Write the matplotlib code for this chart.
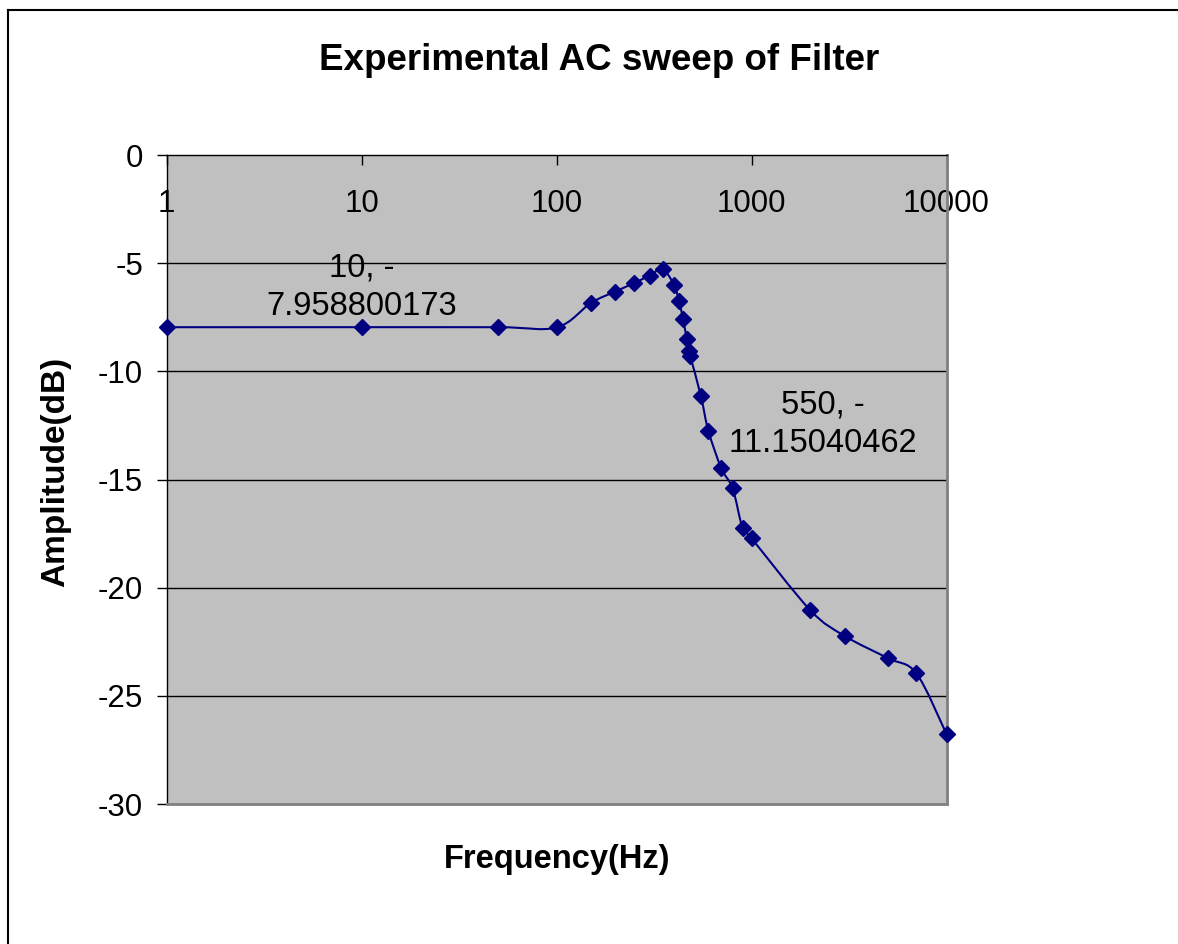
"""Recreate the experimental AC sweep chart of a filter (Excel style)."""

import matplotlib

matplotlib.use("Agg")
import matplotlib.pyplot as plt
import numpy as np
from matplotlib.lines import Line2D
from matplotlib.patches import PathPatch
from matplotlib.path import Path
from matplotlib.ticker import FixedLocator, NullLocator

plt.rcParams["font.family"] = ["Liberation Sans", "DejaVu Sans"]

freq_hz = [1, 10, 50, 100, 150, 200, 250, 300, 350, 400, 425, 445, 465, 475, 485,
           550, 600, 700, 800, 900, 1000, 2000, 3000, 5000, 7000, 10000]
amp_db = [-7.96, -7.9588, -7.96, -7.97, -6.84, -6.31, -5.92, -5.57, -5.28, -6.0,
          -6.77, -7.58, -8.5, -9.05, -9.31, -11.1504, -12.74, -14.49, -15.41,
          -17.26, -17.72, -21.04, -22.23, -23.26, -23.96, -26.77]

x_ticks = [1, 10, 100, 1000, 10000]
x_tick_labels = ["1", "10", "100", "1000", "10000"]
y_ticks = [0, -5, -10, -15, -20, -25, -30]

labelled = [(10, -7.958800173), (550, -11.15040462)]
label_texts = ["10, -\n7.958800173", "550, -\n11.15040462"]

LINE = "#000080"


def smooth_path(xs, ys, sx, sy):
    """Excel-like smoothed line: Bezier segments (Catmull-Rom control points)
    computed in screen-proportional space, log x."""
    lx = np.log10(xs) * sx
    ly = np.asarray(ys) * sy
    pts = np.column_stack([lx, ly])
    n = len(pts)
    verts = [pts[0]]
    codes = [Path.MOVETO]
    for i in range(n - 1):
        p0 = pts[i - 1] if i > 0 else pts[i]
        p1 = pts[i]
        p2 = pts[i + 1]
        p3 = pts[i + 2] if i + 2 < n else pts[i + 1]
        c1 = p1 + (p2 - p0) / 6.0
        c2 = p2 - (p3 - p1) / 6.0
        verts += [c1, c2, p2]
        codes += [Path.CURVE4] * 3
    verts = np.array(verts)
    verts[:, 0] = 10 ** (verts[:, 0] / sx)
    verts[:, 1] = verts[:, 1] / sy
    return Path(verts, codes)


fig = plt.figure(figsize=(11.78, 9.44), dpi=100)
ax = fig.add_axes([0.1415, 0.1483, 0.662, 0.6875])
ax.set_facecolor("#C0C0C0")

ax.set_xscale("log")
ax.set_xlim(1, 10000)
ax.set_ylim(-30, 0)

# smoothed connecting line, then markers
path = smooth_path(freq_hz, amp_db, 195.0, 21.67)
ax.add_patch(PathPatch(path, facecolor="none", edgecolor=LINE, lw=1.5, zorder=3,
                       clip_on=False))
ax.plot(freq_hz, amp_db, linestyle="none", marker="D", ms=8.5, color=LINE,
        markeredgecolor=LINE, zorder=4, clip_on=False)

# horizontal gridlines
for yv in y_ticks[1:-1]:
    ax.axhline(yv, color="black", lw=1.0, zorder=1)

# axes: x axis crosses at 0 (top), labels sit inside the plot area
ax.xaxis.set_major_locator(FixedLocator(x_ticks))
ax.xaxis.set_minor_locator(NullLocator())
ax.set_xticklabels(x_tick_labels)
ax.tick_params(axis="x", which="major", bottom=False, top=True, labelbottom=False,
               labeltop=True, direction="in", length=7, width=1, pad=-46,
               labelsize=22.5, colors="black")
ax.set_yticks(y_ticks)
ax.set_yticklabels([str(v) for v in y_ticks])
ax.tick_params(axis="y", direction="out", length=7, width=1, pad=10, labelsize=22.5)

ax.spines["top"].set_color("black")
ax.spines["left"].set_color("black")
ax.spines["top"].set_linewidth(1.0)
ax.spines["left"].set_linewidth(1.0)
for side in ("right", "bottom"):
    ax.spines[side].set_color("#808080")
    ax.spines[side].set_linewidth(2.0)

# data labels
offsets = [(0, 40), (122, -28)]
for (fx, fy), txt, off in zip(labelled, label_texts, offsets):
    ax.annotate(txt, xy=(fx, fy), xytext=off, textcoords="offset pixels",
                ha="center", va="center", fontsize=23.5, linespacing=1.32,
                multialignment="center", zorder=5)

fig.text(0.509, 0.936, "Experimental AC sweep of Filter", ha="center", va="center",
         fontsize=26.5, fontweight="bold")
fig.text(0.473, 0.089, "Frequency(Hz)", ha="center", va="center", fontsize=23.5,
         fontweight="bold")
fig.text(0.047, 0.50, "Amplitude(dB)", ha="center", va="center", rotation=90,
         fontsize=24, fontweight="bold")

# outer chart frame (only top and left visible in the crop)
fig.add_artist(Line2D([8 / 1178, 1.0], [1 - 10 / 944, 1 - 10 / 944],
                      transform=fig.transFigure, color="black", lw=1.5))
fig.add_artist(Line2D([8 / 1178, 8 / 1178], [0.0, 1 - 10 / 944],
                      transform=fig.transFigure, color="black", lw=1.5))

fig.savefig("out.png", dpi=100)
plt.close(fig)
